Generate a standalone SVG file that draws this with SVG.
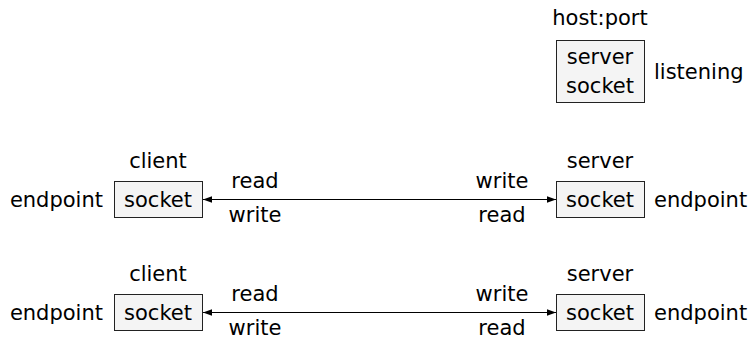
<svg xmlns="http://www.w3.org/2000/svg" width="753" height="340" viewBox="0 0 753 340">
<style>
text{font-family:"DejaVu Sans","Liberation Sans",sans-serif;font-size:21px;fill:#000}
.c{text-anchor:middle}
.e{text-anchor:end}
rect.box{fill:#f4f4f4;stroke:#222;stroke-width:1}
.conn line{stroke:#000;stroke-width:1}
</style>
<defs>
<marker id="ah" viewBox="0 0 10 10" refX="10" refY="5" markerWidth="9" markerHeight="9" markerUnits="userSpaceOnUse" orient="auto-start-reverse">
<path d="M0,1.5 L10,5 L0,8.5 Z" fill="#000"/>
</marker>
</defs>
<g id="listen">
<text class="c" x="600" y="25">host:port</text>
<rect class="box" x="556.5" y="40.5" width="88" height="62"/>
<text class="c" x="600" y="64">server</text>
<text class="c" x="600" y="93">socket</text>
<text x="654" y="79">listening</text>
</g>
<g id="client1">
<text class="c" x="158" y="168">client</text>
<rect class="box" x="114.5" y="181.5" width="88" height="36"/>
<text class="c" x="158" y="207">socket</text>
<text class="e" x="103" y="207">endpoint</text>
</g>
<g id="server1">
<text class="c" x="600" y="168">server</text>
<rect class="box" x="556.5" y="181.5" width="88" height="36"/>
<text class="c" x="600" y="207">socket</text>
<text x="654" y="207">endpoint</text>
</g>
<g id="client2">
<text class="c" x="158" y="281">client</text>
<rect class="box" x="114.5" y="294.5" width="88" height="36"/>
<text class="c" x="158" y="320">socket</text>
<text class="e" x="103" y="320">endpoint</text>
</g>
<g id="server2">
<text class="c" x="600" y="281">server</text>
<rect class="box" x="556.5" y="294.5" width="88" height="36"/>
<text class="c" x="600" y="320">socket</text>
<text x="654" y="320">endpoint</text>
</g>
<g class="conn" id="connectors">
<line x1="203" y1="199.5" x2="556" y2="199.5" marker-start="url(#ah)" marker-end="url(#ah)"/>
<line x1="203" y1="312.5" x2="556" y2="312.5" marker-start="url(#ah)" marker-end="url(#ah)"/>
<text class="c" x="255" y="188">read</text>
<text class="c" x="255" y="222">write</text>
<text class="c" x="502" y="188">write</text>
<text class="c" x="502" y="222">read</text>
<text class="c" x="255" y="301">read</text>
<text class="c" x="255" y="335">write</text>
<text class="c" x="502" y="301">write</text>
<text class="c" x="502" y="335">read</text>
</g>
</svg>
